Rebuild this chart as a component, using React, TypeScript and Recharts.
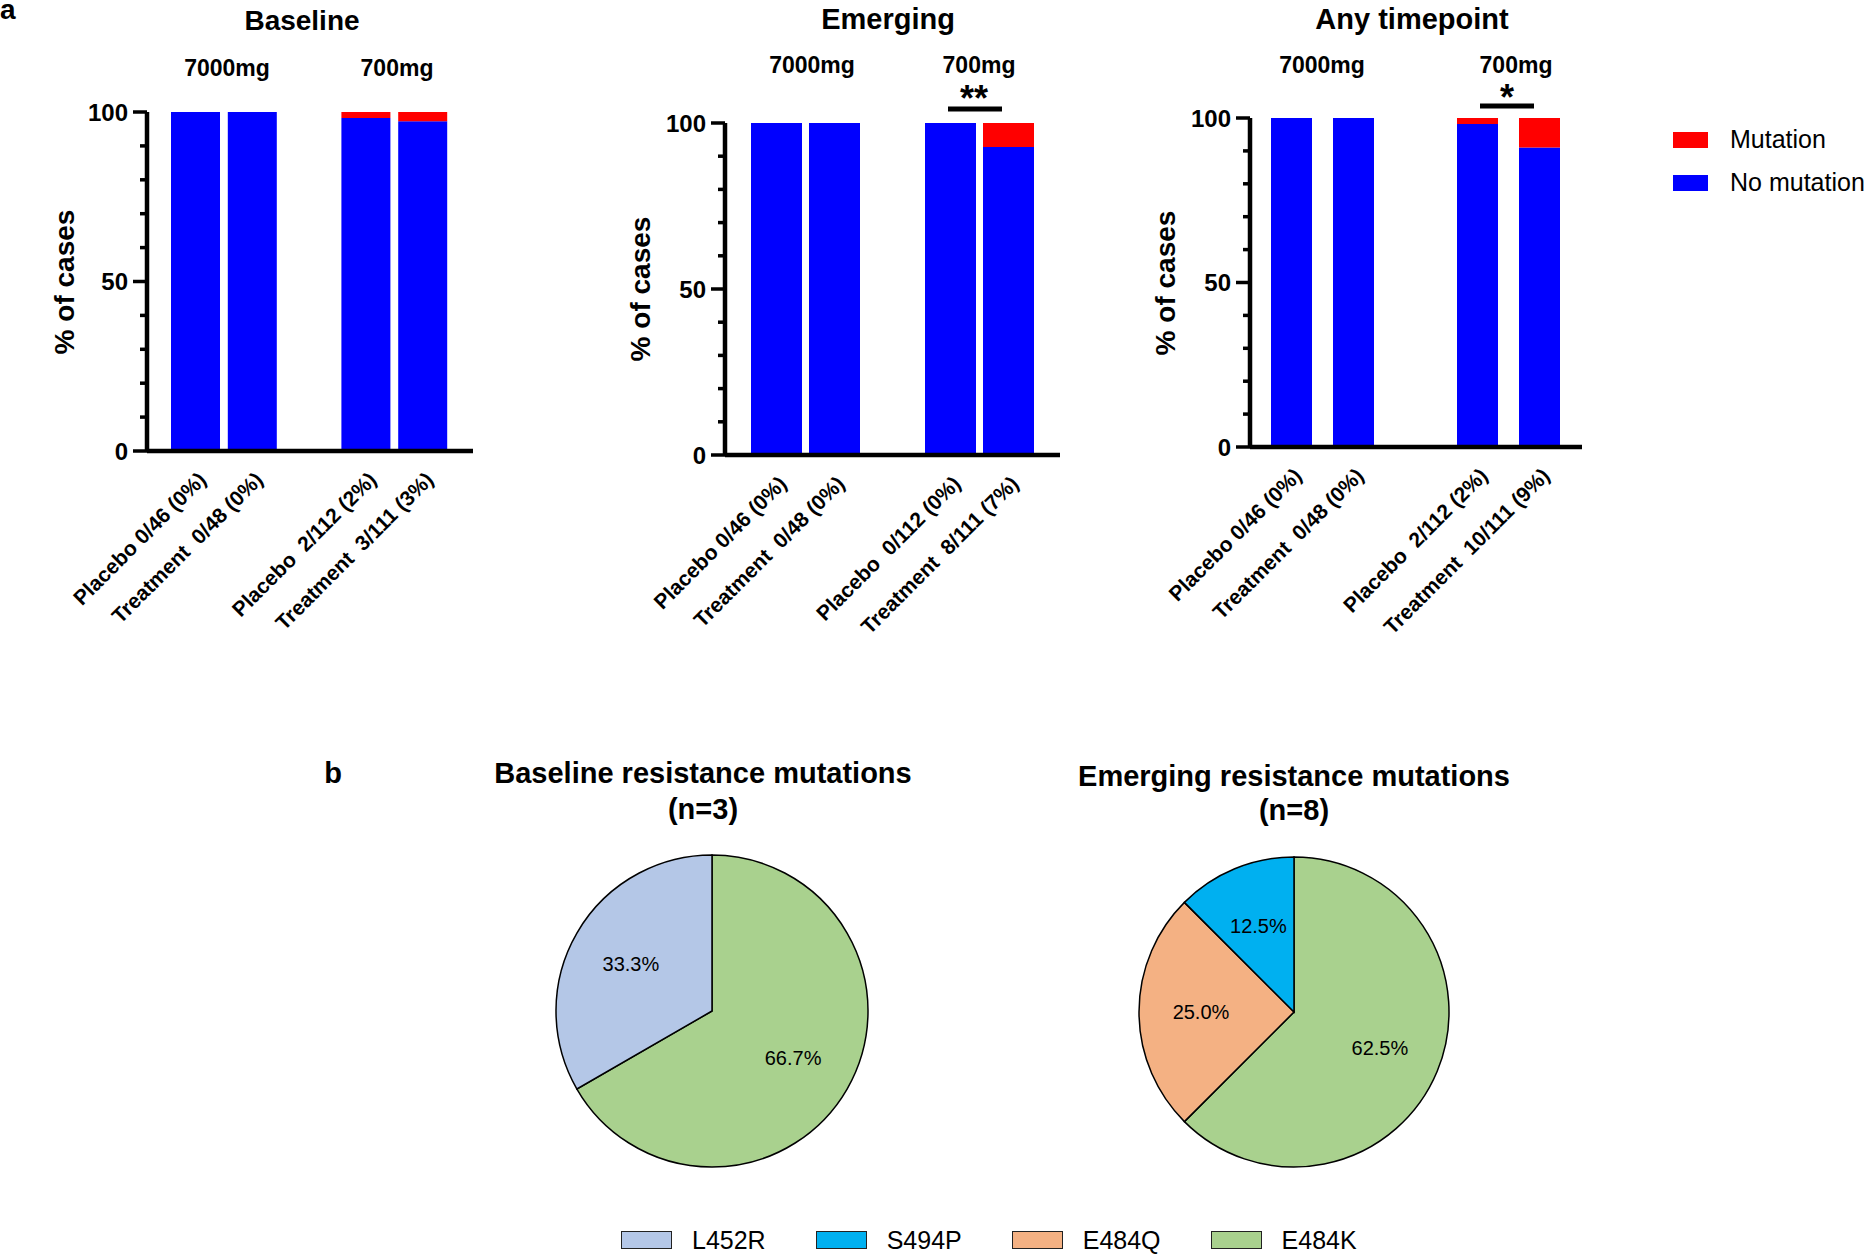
import React from 'react';
import { BarChart, Bar, XAxis, YAxis, PieChart, Pie, Cell, Legend } from 'recharts';

const FONT = '"Liberation Sans", Arial, Helvetica, sans-serif';

// panel a: stacked bars, the empty category is the gap between dose groups
const baselineLabels = ['Placebo 0/46 (0%)', 'Treatment\u00A0 0/48 (0%)', '', 'Placebo\u00A0 2/112 (2%)', 'Treatment\u00A0 3/111 (3%)'];
const baselineMutation = [0, 0, null, 1.8, 2.7];
const baselineNoMutation = [100, 100, null, 98.2, 97.3];

const emergingLabels = ['Placebo 0/46 (0%)', 'Treatment\u00A0 0/48 (0%)', '', 'Placebo\u00A0 0/112 (0%)', 'Treatment\u00A0 8/111 (7%)'];
const emergingMutation = [0, 0, null, 0, 7.2];
const emergingNoMutation = [100, 100, null, 100, 92.8];

const anyLabels = ['Placebo 0/46 (0%)', 'Treatment\u00A0 0/48 (0%)', '', 'Placebo\u00A0 2/112 (2%)', 'Treatment\u00A0 10/111 (9%)'];
const anyMutation = [0, 0, null, 1.8, 9.0];
const anyNoMutation = [100, 100, null, 98.2, 91.0];

const yTicks = [0, 10, 20, 30, 40, 50, 60, 70, 80, 90, 100];

// panel b: mutation counts
const mutationNames = ['L452R', 'S494P', 'E484Q', 'E484K'];
const mutationColors = ['#B4C7E7', '#00B0F0', '#F4B183', '#A9D18E'];
const baselinePieNames = ['E484K', 'L452R'];
const baselinePieCounts = [2, 1];
const emergingPieNames = ['E484K', 'E484Q', 'S494P'];
const emergingPieCounts = [5, 2, 1];

const BLUE = '#0000FF';
const RED = '#FF0000';

const toRows = (labels: string[], mut: (number | null)[], noMut: (number | null)[]) =>
  labels.map((label, i) => ({ label, mutation: mut[i], noMutation: noMut[i] }));

const colorOf = (name: string) => mutationColors[mutationNames.indexOf(name)];

const YTick = (props: any) => {
  const { x, y, payload } = props;
  const major = payload.value % 50 === 0;
  return (
    <g>
      <line x1={x - (major ? 14 : 7)} x2={x} y1={y} y2={y} stroke="#000" strokeWidth={3.5} />
      {major && (
        <text x={x - 19} y={y} dy="0.36em" textAnchor="end" fontFamily={FONT} fontSize={24} fontWeight="bold" fill="#000">
          {payload.value}
        </text>
      )}
    </g>
  );
};

const XTick = (props: any) => {
  const { x, y, payload } = props;
  const px = x + 12;
  const py = y + 30;
  return (
    <text x={px} y={py} transform={`rotate(-45, ${px}, ${py})`} textAnchor="end" fontFamily={FONT} fontSize={21} fontWeight="bold" fill="#000">
      {payload.value}
    </text>
  );
};

const BarLegend = () => (
  <div style={{ fontFamily: FONT, fontSize: 25, color: '#000' }}>
    {[['Mutation', RED], ['No mutation', BLUE]].map(([name, color]) => (
      <div key={name} style={{ display: 'flex', alignItems: 'center', height: 43 }}>
        <div style={{ width: 35, height: 16, background: color, marginRight: 22 }} />
        <span>{name}</span>
      </div>
    ))}
  </div>
);

const PieLegend = () => (
  <div style={{ display: 'flex', fontFamily: FONT, fontSize: 25, lineHeight: '18px', color: '#000', whiteSpace: 'nowrap' }}>
    {mutationNames.map((name, i) => (
      <div key={name} style={{ display: 'flex', alignItems: 'center', marginRight: 50 }}>
        <div style={{ width: 49, height: 16, background: mutationColors[i], border: '1px solid #222', marginRight: 20 }} />
        <span>{name}</span>
      </div>
    ))}
  </div>
);

type PanelProps = {
  left: number;
  width: number;
  top: number;
  right: number;
  yAxisWidth: number;
  xAxisHeight: number;
  pad: { left: number; right: number };
  barSize: number;
  labels: string[];
  mut: (number | null)[];
  noMut: (number | null)[];
  legend?: boolean;
};

const Panel = (p: PanelProps) => (
  <div style={{ position: 'absolute', left: p.left, top: 0 }}>
    <BarChart width={p.width} height={640} data={toRows(p.labels, p.mut, p.noMut)} margin={{ top: p.top, right: p.right, left: 0, bottom: 0 }}>
      <XAxis
        dataKey="label"
        interval={0}
        height={p.xAxisHeight}
        padding={p.pad}
        tickLine={false}
        tickSize={0}
        tickMargin={0}
        axisLine={{ stroke: '#000', strokeWidth: 4.5 }}
        tick={(t: any) => <XTick {...t} />}
      />
      <YAxis
        domain={[0, 100]}
        ticks={yTicks}
        interval={0}
        width={p.yAxisWidth}
        tickLine={false}
        tickSize={0}
        tickMargin={0}
        axisLine={{ stroke: '#000', strokeWidth: 4.5 }}
        tick={(t: any) => <YTick {...t} />}
      />
      <Bar dataKey="noMutation" stackId="a" fill={BLUE} barSize={p.barSize} isAnimationActive={false} />
      <Bar dataKey="mutation" stackId="a" fill={RED} barSize={p.barSize} isAnimationActive={false} />
      {p.legend && (
        <Legend
          layout="vertical"
          verticalAlign="middle"
          align="center"
          content={() => <BarLegend />}
          wrapperStyle={{ left: 573, top: 118, width: 200 }}
        />
      )}
    </BarChart>
  </div>
);

const RAD = Math.PI / 180;
const pieLabel = (props: any) => {
  const { cx, cy, midAngle, outerRadius, percent } = props;
  const r = outerRadius * 0.6;
  const x = cx + r * Math.cos(-midAngle * RAD);
  const y = cy + r * Math.sin(-midAngle * RAD);
  return (
    <text x={x} y={y} textAnchor="middle" dominantBaseline="central" fontFamily={FONT} fontSize={20} fill="#000">
      {(percent * 100).toFixed(1)}%
    </text>
  );
};

const T = (props: any) => {
  const { children, ...rest } = props;
  return (
    <text fontFamily={FONT} fontWeight="bold" fill="#000" textAnchor="middle" {...rest}>
      {children}
    </text>
  );
};

export default function App() {
  const basePie = baselinePieNames.map((name, i) => ({ name, value: baselinePieCounts[i] }));
  const emPie = emergingPieNames.map((name, i) => ({ name, value: emergingPieCounts[i] }));
  return (
    <div style={{ position: 'absolute', left: 0, top: 0, width: 1870, height: 1256, background: '#fff', overflow: 'hidden' }}>
      <Panel left={0} width={500} top={112} right={27} yAxisWidth={147} xAxisHeight={189} pad={{ left: 20, right: 22 }} barSize={49}
        labels={baselineLabels} mut={baselineMutation} noMut={baselineNoMutation} />
      <Panel left={560} width={520} top={123} right={20} yAxisWidth={165} xAxisHeight={185} pad={{ left: 22, right: 23 }} barSize={51}
        labels={emergingLabels} mut={emergingMutation} noMut={emergingNoMutation} />
      <Panel left={1100} width={770} top={118} right={288} yAxisWidth={150} xAxisHeight={193} pad={{ left: 10, right: 12 }} barSize={41}
        labels={anyLabels} mut={anyMutation} noMut={anyNoMutation} legend />

      <div style={{ position: 'absolute', left: 0, top: 700 }}>
        <PieChart width={1870} height={556} margin={{ top: 0, right: 0, bottom: 0, left: 0 }}>
          <Pie data={basePie} dataKey="value" nameKey="name" cx={712} cy={311} outerRadius={156} startAngle={90} endAngle={-270}
            stroke="#000" strokeWidth={1.5} label={pieLabel} labelLine={false} isAnimationActive={false}>
            {basePie.map((d) => <Cell key={d.name} fill={colorOf(d.name)} />)}
          </Pie>
          <Pie data={emPie} dataKey="value" nameKey="name" cx={1294} cy={312} outerRadius={155} startAngle={90} endAngle={-270}
            stroke="#000" strokeWidth={1.5} label={pieLabel} labelLine={false} isAnimationActive={false}>
            {emPie.map((d) => <Cell key={d.name} fill={colorOf(d.name)} />)}
          </Pie>
          <Legend
            layout="vertical"
            verticalAlign="middle"
            align="center"
            content={() => <PieLegend />}
            wrapperStyle={{ left: 621, top: 531, width: 1000 }}
          />
        </PieChart>
      </div>

      <svg width={1870} height={1256} style={{ position: 'absolute', left: 0, top: 0, pointerEvents: 'none' }}>
        <T x={0} y={19} fontSize={28} textAnchor="start">a</T>
        <T x={302} y={30} fontSize={28}>Baseline</T>
        <T x={888} y={29} fontSize={29}>Emerging</T>
        <T x={1412} y={29} fontSize={29}>Any timepoint</T>

        <T x={227} y={76} fontSize={23}>7000mg</T>
        <T x={397} y={76} fontSize={23}>700mg</T>
        <T x={812} y={73} fontSize={23}>7000mg</T>
        <T x={979} y={73} fontSize={23}>700mg</T>
        <T x={1322} y={73} fontSize={23}>7000mg</T>
        <T x={1516} y={73} fontSize={23}>700mg</T>

        <T x={974} y={111} fontSize={36}>**</T>
        <line x1={948} x2={1002} y1={109} y2={109} stroke="#000" strokeWidth={5} />
        <T x={1507} y={110} fontSize={36}>*</T>
        <line x1={1480} x2={1534} y1={106} y2={106} stroke="#000" strokeWidth={5} />

        <T x={64} y={282} fontSize={28} dominantBaseline="central" transform="rotate(-90, 64, 282)">% of cases</T>
        <T x={640} y={289} fontSize={28} dominantBaseline="central" transform="rotate(-90, 640, 289)">% of cases</T>
        <T x={1165} y={283} fontSize={28} dominantBaseline="central" transform="rotate(-90, 1165, 283)">% of cases</T>

        <T x={333} y={783} fontSize={29}>b</T>
        <T x={703} y={783} fontSize={29}>Baseline resistance mutations</T>
        <T x={703} y={819} fontSize={29}>(n=3)</T>
        <T x={1294} y={786} fontSize={29}>Emerging resistance mutations</T>
        <T x={1294} y={820} fontSize={29}>(n=8)</T>
      </svg>
    </div>
  );
}
